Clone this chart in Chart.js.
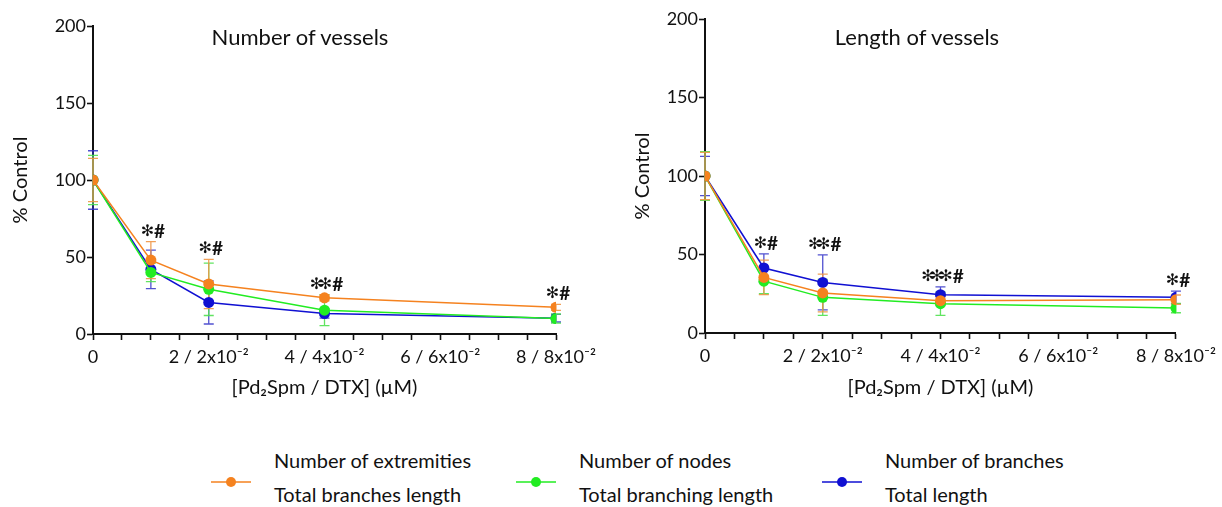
<!DOCTYPE html>
<html>
<head>
<meta charset="utf-8">
<script src="https://cdn.jsdelivr.net/npm/chart.js@4.4.1/dist/chart.umd.min.js"></script>
<style>
  html, body { margin: 0; padding: 0; background: #fff; }
  body { width: 1222px; height: 507px; position: relative; overflow: hidden; font-family: Lato, "Open Sans", sans-serif; color: #111; }
  .panel { position: absolute; top: 0; width: 611px; height: 410px; }
  .panel canvas { width: 611px !important; height: 410px !important; }
  .ttl { position: absolute; font-size: 22px; transform: translate(-50%, -50%); white-space: nowrap; }
  .lg-mark { position: absolute; width: 40px; height: 12px; }
  .lg-text { position: absolute; font-size: 20px; line-height: 34px; white-space: nowrap; }
</style>
</head>
<body>
<div class="panel" style="left:0"><canvas id="vessNum" width="611" height="410"></canvas></div>
<div class="panel" style="left:611px"><canvas id="vessLen" width="611" height="410"></canvas></div>
<div class="ttl" style="left:300px;top:36px">Number of vessels</div>
<div class="ttl" style="left:917px;top:36px">Length of vessels</div>
<div id="legend"></div>

<script>
// Concentrations (µM Pd2Spm; DTX is the same value x10^-2)
const doses = [0, 1, 2, 4, 8];

// x-axis labels (only the even concentrations are labelled)
const xTickValues = [0, 2, 4, 6, 8];
const xTickText = ['0', '2 / 2x10⁻²', '4 / 4x10⁻²', '6 / 6x10⁻²', '8 / 8x10⁻²'];

// Number of vessels (% control, mean and error)
const extremities    = [100, 48, 32.5, 23.5, 17.3];
const extremitiesErr = [14, 12, 16, 2, 2];
const nodes          = [100, 40, 29, 15.5, 10];
const nodesErr       = [16, 6, 17, 10, 3];
const branches       = [100, 42, 20.5, 13.3, 10.3];
const branchesErr    = [19, 12.5, 14, 3, 2.5];

// Length of vessels (% control, mean and error)
const branchesLen       = [100, 35.4, 25.5, 20.6, 21.2];
const branchesLenErr    = [15, 11, 12, 3, 3];
const branchingLen      = [100, 33, 22.7, 18.7, 15.9];
const branchingLenErr   = [15.5, 8, 11.5, 7.5, 3];
const totalLen          = [100, 41.4, 32.2, 24.4, 22.7];
const totalLenErr       = [12.5, 9, 17.5, 5, 4];

// Significance marks per concentration
const sigVessNum = ['', '*#', '*#', '**#', '*#'];
const sigVessLen = ['', '*#', '**#', '***#', '*#'];

// Series names
const namesNum = ['Number of extremities', 'Number of nodes', 'Number of branches'];
const namesLen = ['Total branches length', 'Total branching length', 'Total length'];

const ORANGE = '#F5821F';
const GREEN  = '#22EC22';
const BLUE   = '#1010D2';
const ORANGE_EB = 'rgba(240,150,70,0.9)';
const GREEN_EB  = 'rgba(80,225,80,0.9)';
const BLUE_EB   = 'rgba(50,50,200,0.85)';

const FONT = 'Lato, "Open Sans", sans-serif';

function series(values, errs, label, color, ebColor) {
  return {
    label,
    data: doses.map((d, i) => ({ x: d, y: values[i] })),
    errors: errs,
    errorColor: ebColor,
    borderColor: color,
    backgroundColor: color,
    borderWidth: 1.5,
    pointRadius: 5.5,
    pointBorderWidth: 0,
    pointHoverRadius: 5.5,
    tension: 0
  };
}

// vertical error bars with caps, drawn under lines and markers
const errorBars = {
  id: 'errorBars',
  beforeDatasetsDraw(chart) {
    const { ctx, scales: { x, y } } = chart;
    const dsets = chart.data.datasets;
    for (let i = dsets.length - 1; i >= 0; i--) {
      const ds = dsets[i];
      ctx.save();
      ctx.strokeStyle = ds.errorColor;
      ctx.lineWidth = 1.3;
      ds.data.forEach((p, j) => {
        const e = ds.errors[j];
        const px = x.getPixelForValue(p.x);
        const top = y.getPixelForValue(p.y + e);
        const bot = y.getPixelForValue(p.y - e);
        ctx.beginPath();
        ctx.moveTo(px, top); ctx.lineTo(px, bot);
        ctx.moveTo(px - 5, top); ctx.lineTo(px + 5, top);
        ctx.moveTo(px - 5, bot); ctx.lineTo(px + 5, bot);
        ctx.stroke();
      });
      ctx.restore();
    }
  }
};

// "*" / "#" significance marks above the highest error bar at each concentration
const sigMarks = {
  id: 'sigMarks',
  afterDatasetsDraw(chart, args, opts) {
    const { ctx, scales: { x, y } } = chart;
    const marks = opts.marks || [];
    const dsets = chart.data.datasets;
    const starFont = '16px "DejaVu Sans"';
    const hashFont = 'bold 19px ' + FONT;
    const starStep = 9;
    marks.forEach((m, j) => {
      if (!m) return;
      let top = -Infinity;
      dsets.forEach(ds => { top = Math.max(top, ds.data[j].y + ds.errors[j]); });
      const py = y.getPixelForValue(top) - 10;
      const px = x.getPixelForValue(doses[j]) + 2;
      const n = m.split('*').length - 1;
      ctx.save();
      ctx.fillStyle = '#111';
      ctx.textBaseline = 'middle';
      ctx.textAlign = 'left';
      ctx.font = starFont;
      const sw1 = ctx.measureText('✻').width;
      const sw = sw1 + starStep * (n - 1);
      ctx.font = hashFont;
      const hw = ctx.measureText('#').width;
      const gap = 0;
      const sx = px - (sw + gap + hw) / 2;
      ctx.font = starFont;
      for (let k = 0; k < n; k++) ctx.fillText('✻', sx + k * starStep, py);
      ctx.font = hashFont;
      ctx.fillText('#', sx + sw + gap, py);
      ctx.restore();
    });
  }
};

function makeChart(id, datasets, marks, geom) {
  return new Chart(document.getElementById(id), {
    type: 'line',
    data: { datasets },
    plugins: [errorBars, sigMarks],
    options: {
      responsive: false,
      animation: false,
      events: [],
      layout: { padding: { left: 0, right: geom.padRight, top: geom.padTop, bottom: 0 } },
      plugins: {
        legend: { display: false },
        tooltip: { enabled: false },
        title: { display: false },
        sigMarks: { marks }
      },
      scales: {
        x: {
          type: 'linear',
          min: 0, max: 8,
          afterFit(s) { s.height = geom.xHeight; },
          afterBuildTicks(s) {
            const t = [];
            for (let v = 0; v <= 8.0001; v += 0.5) t.push({ value: v });
            s.ticks = t;
          },
          ticks: {
            autoSkip: false,
            maxRotation: 0,
            padding: 6,
            color: '#111',
            font: { family: FONT, size: 18 },
            callback(v) {
              const k = xTickValues.indexOf(v);
              return k >= 0 ? xTickText[k] : '';
            }
          },
          grid: { display: true, drawOnChartArea: false, drawTicks: true, tickLength: 6, tickWidth: 1.6, tickColor: '#111' },
          border: { display: true, color: '#111', width: 2 },
          title: {
            display: true,
            text: '[Pd₂Spm / DTX] (µM)',
            color: '#111',
            font: { family: FONT, size: 20 },
            padding: { top: 0, bottom: 10 }
          }
        },
        y: {
          type: 'linear',
          min: 0, max: 200,
          afterFit(s) { s.width = geom.yWidth; },
          ticks: {
            stepSize: 50,
            padding: 1,
            color: '#111',
            font: { family: FONT, size: 18 }
          },
          grid: { display: true, drawOnChartArea: false, drawTicks: true, tickLength: 6, tickWidth: 1.6, tickColor: '#111' },
          border: { display: true, color: '#111', width: 2 },
          title: {
            display: true,
            text: '% Control',
            color: '#111',
            font: { family: FONT, size: 20 },
            padding: { top: geom.yTitlePad, bottom: 0 }
          }
        }
      }
    }
  });
}

makeChart('vessNum', [
  series(extremities, extremitiesErr, namesNum[0], ORANGE, ORANGE_EB),
  series(nodes, nodesErr, namesNum[1], GREEN, GREEN_EB),
  series(branches, branchesErr, namesNum[2], BLUE, BLUE_EB)
], sigVessNum, { padRight: 55, padTop: 26, xHeight: 76, yWidth: 93, yTitlePad: 9 });

makeChart('vessLen', [
  series(branchesLen, branchesLenErr, namesLen[0], ORANGE, ORANGE_EB),
  series(branchingLen, branchingLenErr, namesLen[1], GREEN, GREEN_EB),
  series(totalLen, totalLenErr, namesLen[2], BLUE, BLUE_EB)
], sigVessLen, { padRight: 43, padTop: 19, xHeight: 77, yWidth: 94, yTitlePad: 20 });

// shared legend: each colour pairs one series of each panel
const legendColors = [ORANGE, GREEN, BLUE];
const legendMarkX = [211, 516, 822];
const legendTextX = [274, 579, 885];
const legend = document.getElementById('legend');
legendColors.forEach((c, i) => {
  const mark = document.createElement('div');
  mark.className = 'lg-mark';
  mark.style.left = legendMarkX[i] + 'px';
  mark.style.top = '472px';
  mark.innerHTML = '<svg width="40" height="12"><line x1="0" y1="6" x2="40" y2="6" stroke="' + c +
    '" stroke-width="1.5"/><circle cx="20" cy="6" r="5" fill="' + c + '"/></svg>';
  legend.appendChild(mark);
  const txt = document.createElement('div');
  txt.className = 'lg-text';
  txt.style.left = legendTextX[i] + 'px';
  txt.style.top = '443px';
  txt.innerHTML = namesNum[i] + '<br>' + namesLen[i];
  legend.appendChild(txt);
});
</script>
</body>
</html>
